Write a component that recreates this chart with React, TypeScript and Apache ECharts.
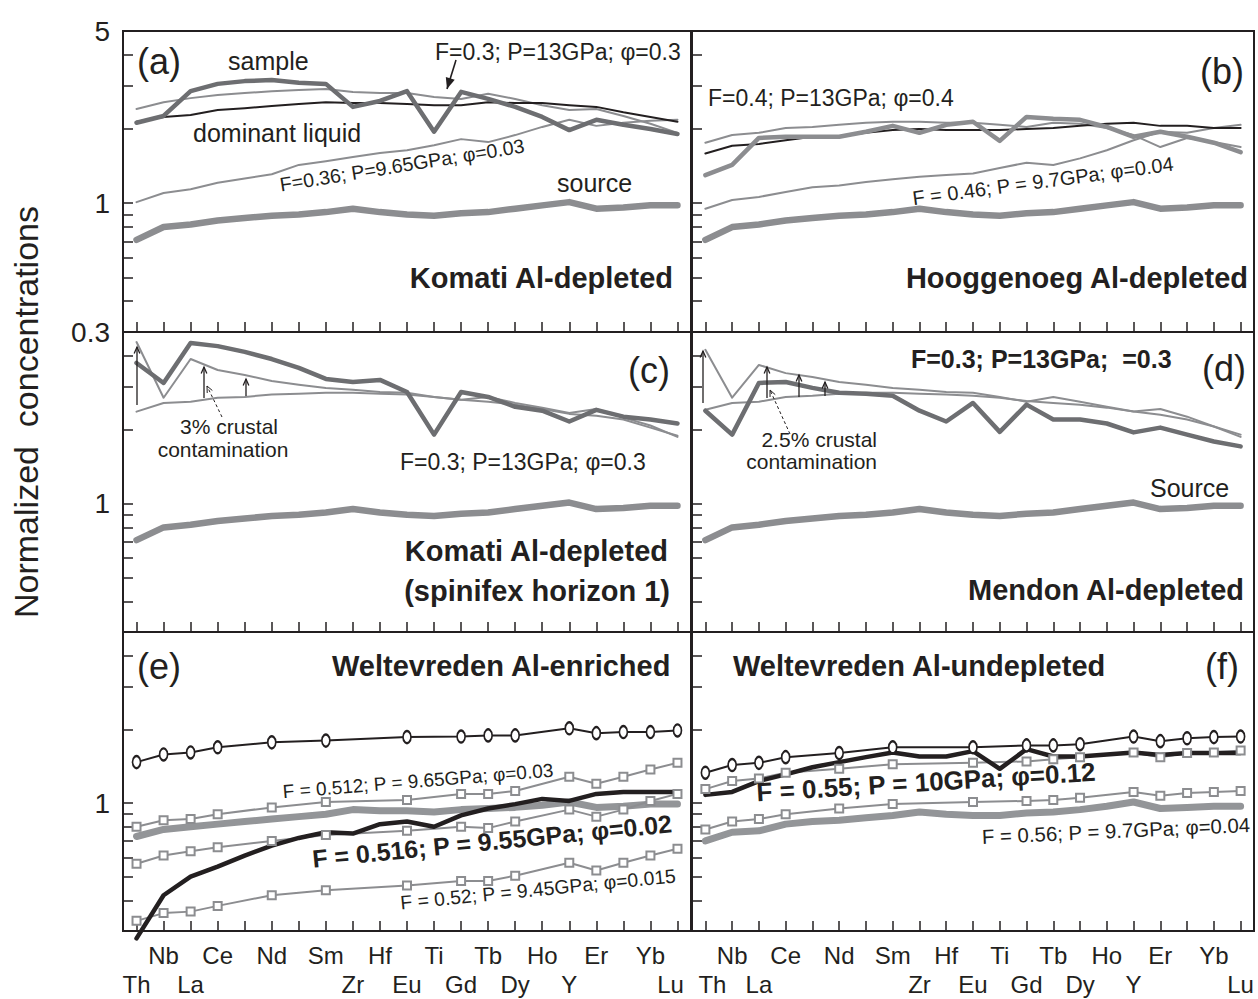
import React, { useEffect, useRef } from "react";
import * as echarts from "echarts";

// ---------- categories & tick labels ----------
const elements = ["Th", "Nb", "La", "Ce", "Pr", "Nd", "Sr", "Sm", "Zr", "Hf", "Eu", "Ti", "Gd", "Tb", "Dy", "Ho", "Y", "Er", "Tm", "Yb", "Lu"];
const upperRowLabels = ["Nb", "Ce", "Nd", "Sm", "Hf", "Ti", "Tb", "Ho", "Er", "Yb"];
const lowerRowLabels = ["Th", "La", "Zr", "Eu", "Gd", "Dy", "Y", "Lu"];
const yTickValues = [0.4, 0.5, 0.6, 0.7, 0.8, 0.9, 1, 2, 3, 4];
const yLabelsTop = [0.3, 1, 5];
const yLabelsOther = [1];
const Y_MIN = 0.3;
const Y_MAX = 5;

// ---------- source (panels a-d) ----------
const sourceAD = [0.71, 0.8, 0.82, 0.85, 0.87, 0.89, 0.9, 0.92, 0.95, 0.92, 0.9, 0.89, 0.91, 0.92, 0.95, 0.98, 1.01, 0.95, 0.96, 0.98, 0.98];

// ---------- panel (a) ----------
const aSample = [2.12, 2.26, 2.85, 3.05, 3.13, 3.16, 3.08, 3.05, 2.46, 2.6, 2.85, 1.95, 2.83, 2.65, 2.46, 2.24, 1.98, 2.18, 2.08, 2.0, 1.91];
const aModel = [2.41, 2.57, 2.67, 2.75, 2.8, 2.85, 2.88, 2.91, 2.83, 2.8, 2.8, 2.7, 2.65, 2.78, 2.65, 2.5, 2.39, 2.41, 2.26, 2.1, 1.93];
const aLiquid = [2.14, 2.24, 2.28, 2.39, 2.43, 2.48, 2.53, 2.57, 2.55, 2.55, 2.53, 2.5, 2.5, 2.57, 2.55, 2.55, 2.5, 2.46, 2.34, 2.24, 2.14];
const aLowF = [1.01, 1.1, 1.14, 1.21, 1.26, 1.31, 1.43, 1.48, 1.54, 1.6, 1.64, 1.72, 1.82, 1.77, 1.89, 2.04, 2.18, 2.06, 2.12, 2.16, 2.18];

// ---------- panel (b) ----------
const bLiquid = [1.59, 1.71, 1.74, 1.8, 1.86, 1.87, 1.93, 1.98, 2.0, 1.98, 1.98, 1.98, 2.0, 2.02, 2.06, 2.1, 2.12, 2.06, 2.06, 2.02, 2.02];
const bModel = [1.76, 1.89, 1.93, 2.02, 2.04, 2.08, 2.12, 2.14, 2.14, 2.12, 2.12, 2.08, 2.04, 2.12, 2.1, 2.02, 1.89, 1.69, 1.84, 1.77, 1.69];
const bSample = [1.3, 1.43, 1.84, 1.86, 1.86, 1.86, 1.95, 2.06, 1.93, 2.08, 2.14, 1.79, 2.24, 2.2, 2.18, 2.04, 1.86, 1.95, 1.86, 1.76, 1.61];
const bLowF = [0.95, 1.03, 1.06, 1.11, 1.16, 1.18, 1.22, 1.25, 1.28, 1.3, 1.32, 1.39, 1.46, 1.43, 1.52, 1.64, 1.8, 1.95, 1.93, 2.02, 2.08];

// ---------- panel (c) ----------
const cSample = [3.74, 3.1, 4.51, 4.38, 4.15, 3.88, 3.57, 3.22, 3.13, 3.19, 2.85, 1.91, 2.85, 2.72, 2.48, 2.39, 2.16, 2.41, 2.26, 2.2, 2.12];
const cContam = [4.55, 2.7, 3.88, 3.5, 3.34, 3.16, 3.05, 2.96, 2.91, 2.85, 2.83, 2.72, 2.65, 2.72, 2.57, 2.46, 2.34, 2.43, 2.24, 2.08, 1.87];
const cModel = [2.37, 2.57, 2.6, 2.7, 2.72, 2.78, 2.8, 2.83, 2.83, 2.8, 2.78, 2.72, 2.65, 2.6, 2.53, 2.43, 2.32, 2.28, 2.2, 2.04, 1.89];

// ---------- panel (d) ----------
const dSample = [2.39, 1.91, 3.1, 3.13, 2.96, 2.83, 2.8, 2.75, 2.39, 2.16, 2.57, 1.96, 2.53, 2.2, 2.2, 2.12, 1.95, 2.04, 1.91, 1.79, 1.71];
const dContam = [4.23, 2.7, 3.67, 3.4, 3.28, 3.13, 3.05, 2.96, 2.91, 2.85, 2.83, 2.72, 2.6, 2.72, 2.6, 2.48, 2.37, 2.43, 2.26, 2.06, 1.87];
const dModel = [2.41, 2.57, 2.6, 2.72, 2.75, 2.8, 2.83, 2.83, 2.8, 2.78, 2.75, 2.7, 2.62, 2.57, 2.53, 2.46, 2.37, 2.3, 2.2, 2.06, 1.91];

// ---------- panel (e) ----------
const eCircles = [1.47, 1.58, 1.61, 1.69, null, 1.77, null, 1.8, null, null, 1.86, null, 1.87, 1.89, 1.89, null, 2.02, 1.93, 1.95, 1.95, 1.98];
const eUpper = [0.8, 0.85, 0.86, 0.9, null, 0.96, null, 1.01, null, null, 1.03, null, 1.09, 1.09, 1.12, null, 1.28, 1.2, 1.28, 1.37, 1.46];
const eMiddle = [0.565, 0.61, 0.635, 0.66, null, 0.7, null, 0.74, null, null, 0.77, null, 0.8, 0.79, 0.84, null, 0.94, 0.88, 0.94, 1.02, 1.09];
const eLower = [0.33, 0.355, 0.36, 0.38, null, 0.42, null, 0.44, null, null, 0.46, null, 0.48, 0.48, 0.505, null, 0.57, 0.53, 0.57, 0.61, 0.65];
const eSource = [0.73, 0.78, 0.8, 0.82, 0.84, 0.86, 0.88, 0.9, 0.94, 0.93, 0.93, 0.92, 0.94, 0.95, 0.96, 0.98, 1.01, 0.96, 0.97, 0.99, 0.99];
const eBest = [0.28, 0.42, 0.5, 0.55, 0.61, 0.67, 0.72, 0.76, 0.75, 0.82, 0.84, 0.8, 0.89, 0.95, 0.99, 1.04, 1.02, 1.09, 1.11, 1.11, 1.11];

// ---------- panel (f) ----------
const fCircles = [1.33, 1.43, 1.46, 1.54, null, 1.6, null, 1.69, null, null, 1.69, null, 1.72, 1.72, 1.74, null, 1.87, 1.79, 1.84, 1.86, 1.87];
const fBest = [1.08, 1.11, 1.23, 1.31, 1.4, 1.47, 1.54, 1.61, 1.55, 1.55, 1.63, 1.38, 1.66, 1.55, 1.55, 1.58, 1.61, 1.57, 1.6, 1.6, 1.6];
const fUpper = [1.14, 1.23, 1.26, 1.33, null, 1.38, null, 1.44, null, null, 1.46, null, 1.48, 1.51, 1.54, null, 1.61, 1.54, 1.6, 1.61, 1.64];
const fLower = [0.78, 0.84, 0.86, 0.9, null, 0.95, null, 0.99, null, null, 1.01, null, 1.02, 1.03, 1.05, null, 1.11, 1.07, 1.1, 1.11, 1.12];
const fSource = [0.7, 0.76, 0.77, 0.82, 0.84, 0.85, 0.87, 0.89, 0.92, 0.9, 0.89, 0.89, 0.91, 0.92, 0.94, 0.97, 1.01, 0.95, 0.96, 0.97, 0.97];

// ---------- styles ----------
const FONT = "'Liberation Sans', Arial, Helvetica, sans-serif";
const BLACK = "#231f20";
const DARK = "#6d6e71";
const GREY = "#8c8d90";
const LIGHT = "#939598";

const grids = [
  { left: 123, top: 31, width: 568, height: 301 },
  { left: 692, top: 31, width: 562, height: 301 },
  { left: 123, top: 332, width: 568, height: 300 },
  { left: 692, top: 332, width: 562, height: 300 },
  { left: 123, top: 632, width: 568, height: 301 },
  { left: 692, top: 632, width: 562, height: 301 },
];

const toLog = (arr: (number | null)[]) => arr.map((v) => (v == null ? null : Math.log10(v)));

function line(idx: number, data: (number | null)[], color: string, width: number, extra: any = {}) {
  return {
    type: "line",
    xAxisIndex: idx,
    yAxisIndex: idx,
    data: toLog(data),
    symbol: "none",
    connectNulls: true,
    silent: true,
    lineStyle: { color, width, join: "round", cap: "round" },
    itemStyle: { color },
    ...extra,
  };
}

const circleMarks = (color: string) => ({
  symbol: "emptyCircle",
  symbolSize: [8, 12],
  showSymbol: true,
  showAllSymbol: true,
  itemStyle: { color, borderColor: color, borderWidth: 1.8 },
});
const squareMarks = (color: string) => ({
  symbol: "emptyRect",
  symbolSize: 8,
  showSymbol: true,
  showAllSymbol: true,
  itemStyle: { color, borderColor: color, borderWidth: 2 },
});

function txt(text: string, x: number, y: number, size: number, opts: any = {}) {
  return {
    type: "text",
    x,
    y,
    rotation: opts.rot ? (opts.rot * Math.PI) / 180 : 0,
    z: 100,
    silent: true,
    style: {
      text,
      fill: BLACK,
      fontSize: size,
      fontFamily: FONT,
      fontWeight: opts.bold ? "bold" : "normal",
      align: opts.align || "left",
      textAlign: opts.align || "left",
      verticalAlign: "middle",
      textVerticalAlign: "middle",
    },
  };
}

function arrow(x1: number, y1: number, x2: number, y2: number, opts: any = {}) {
  const head = opts.head || 7;
  const spread = opts.spread || 0.42;
  const w = opts.width || 1.3;
  const ang = Math.atan2(y2 - y1, x2 - x1);
  const p1 = [x2 + head * Math.cos(ang + Math.PI - spread), y2 + head * Math.sin(ang + Math.PI - spread)];
  const p2 = [x2 + head * Math.cos(ang + Math.PI + spread), y2 + head * Math.sin(ang + Math.PI + spread)];
  const lineStyle: any = { stroke: BLACK, lineWidth: w };
  if (opts.dashed) lineStyle.lineDash = [3, 2.5];
  const els: any[] = [{ type: "line", z: 100, silent: true, shape: { x1, y1, x2, y2 }, style: lineStyle }];
  if (opts.filled) {
    els.push({ type: "polygon", z: 100, silent: true, shape: { points: [[x2, y2], p1, p2] }, style: { fill: BLACK } });
  } else {
    els.push({ type: "polyline", z: 100, silent: true, shape: { points: [p1, [x2, y2], p2] }, style: { stroke: BLACK, lineWidth: w, fill: null } });
  }
  return els;
}

function nearestLabel(v: number, list: number[]) {
  let best = list[0];
  list.forEach((c) => {
    if (Math.abs(Math.log10(c) - v) < Math.abs(Math.log10(best) - v)) best = c;
  });
  return String(best);
}

function xLabelFormatter(axisIndex: number) {
  return (v: string) => {
    if (upperRowLabels.includes(v)) return v + "\n ";
    if (lowerRowLabels.includes(v)) {
      if (v === "Lu" && axisIndex === 4) return " \n{l|Lu}";
      if (v === "Th" && axisIndex === 5) return " \n{r|Th}";
      return " \n" + v;
    }
    return "";
  };
}

function buildOption() {
  const xAxis = grids.map((_, i) => ({
    type: "category",
    gridIndex: i,
    data: elements,
    boundaryGap: true,
    axisLine: { show: false, onZero: false },
    splitLine: { show: false },
    axisTick: { show: true, inside: true, length: 10, alignWithLabel: true, interval: 0, lineStyle: { color: BLACK, width: 1.5 } },
    axisLabel: {
      show: i >= 4,
      interval: 0,
      margin: 10,
      color: BLACK,
      fontSize: 24,
      fontFamily: FONT,
      lineHeight: 29,
      verticalAlign: "top",
      formatter: xLabelFormatter(i),
      rich: {
        l: { fontSize: 24, fontFamily: FONT, color: BLACK, lineHeight: 29, padding: [0, 14, 0, 0] },
        r: { fontSize: 24, fontFamily: FONT, color: BLACK, lineHeight: 29, padding: [0, 0, 0, 14] },
      },
    },
  }));

  const yAxis = grids.map((_, i) => {
    const labels = i === 0 ? yLabelsTop : yLabelsOther;
    return {
      type: "value",
      gridIndex: i,
      min: Math.log10(Y_MIN),
      max: Math.log10(Y_MAX),
      axisLine: { show: false, onZero: false },
      splitLine: { show: false },
      axisTick: { show: true, inside: true, length: 10, customValues: yTickValues.map((v) => Math.log10(v)), lineStyle: { color: BLACK, width: 1.5 } },
      axisLabel: {
        show: i % 2 === 0,
        customValues: labels.map((v) => Math.log10(v)),
        formatter: (v: number) => nearestLabel(v, labels),
        color: BLACK,
        fontSize: 28,
        fontFamily: FONT,
        margin: 13,
      },
    };
  });

  const series: any[] = [
    // (a)
    line(0, sourceAD, GREY, 6.5),
    line(0, aLowF, GREY, 2),
    line(0, aModel, GREY, 2),
    line(0, aLiquid, BLACK, 2),
    line(0, aSample, DARK, 4.5),
    // (b)
    line(1, sourceAD, GREY, 6.5),
    line(1, bLowF, GREY, 2),
    line(1, bModel, GREY, 2),
    line(1, bLiquid, BLACK, 2),
    line(1, bSample, GREY, 4.5),
    // (c)
    line(2, sourceAD, GREY, 6.5),
    line(2, cModel, GREY, 2),
    line(2, cContam, GREY, 2),
    line(2, cSample, DARK, 4.5),
    // (d)
    line(3, sourceAD, GREY, 6.5),
    line(3, dModel, GREY, 2),
    line(3, dContam, GREY, 2),
    line(3, dSample, DARK, 4.5),
    // (e)
    line(4, eSource, LIGHT, 7),
    line(4, eLower, GREY, 2, squareMarks(GREY)),
    line(4, eMiddle, GREY, 2, squareMarks(GREY)),
    line(4, eUpper, GREY, 2, squareMarks(GREY)),
    line(4, eBest, BLACK, 4.5, { clip: false }),
    line(4, eCircles, BLACK, 2, circleMarks(BLACK)),
    // (f)
    line(5, fSource, LIGHT, 7),
    line(5, fLower, GREY, 2, squareMarks(GREY)),
    line(5, fUpper, GREY, 2, squareMarks(GREY)),
    line(5, fBest, BLACK, 4.5),
    line(5, fCircles, BLACK, 2, circleMarks(BLACK)),
  ];

  const graphics: any[] = [
    txt("Normalized  concentrations", 26, 412, 34, { align: "center", rot: 90 }),
    // (a)
    txt("(a)", 137, 61, 36),
    txt("sample", 228, 61, 25),
    txt("F=0.3; P=13GPa; φ=0.3", 435, 52, 23),
    txt("dominant liquid", 193, 133, 25),
    txt("F=0.36; P=9.65GPa; φ=0.03", 402, 165, 19.6, { align: "center", rot: 9.1 }),
    txt("source", 557, 183, 25),
    txt("Komati Al-depleted", 673, 278, 29, { bold: true, align: "right" }),
    ...arrow(456, 60, 447, 89, { filled: true, head: 12, spread: 0.4, width: 1.6 }),
    // (b)
    txt("(b)", 1244, 71, 36, { align: "right" }),
    txt("F=0.4; P=13GPa; φ=0.4", 708, 98, 23),
    txt("F = 0.46; P = 9.7GPa; φ=0.04", 1043, 181, 20, { align: "center", rot: 7.6 }),
    txt("Hooggenoeg Al-depleted", 1248, 278, 29, { bold: true, align: "right" }),
    // (c)
    txt("(c)", 670, 370, 36, { align: "right" }),
    txt("3% crustal", 229, 426, 21, { align: "center" }),
    txt("contamination", 223, 449, 21, { align: "center" }),
    txt("F=0.3; P=13GPa; φ=0.3", 400, 462, 23),
    txt("Komati Al-depleted", 668, 551, 29, { bold: true, align: "right" }),
    txt("(spinifex horizon 1)", 670, 591, 29, { bold: true, align: "right" }),
    ...arrow(137, 405, 137, 347),
    ...arrow(204, 398, 204, 367),
    ...arrow(246, 396, 246, 379),
    ...arrow(222, 417, 207, 386, { dashed: true, width: 1 }),
    // (d)
    txt("F=0.3; P=13GPa;  =0.3", 911, 359, 25, { bold: true }),
    txt("(d)", 1246, 368, 36, { align: "right" }),
    txt("2.5% crustal", 877, 439, 21, { align: "right" }),
    txt("contamination", 877, 461, 21, { align: "right" }),
    txt("Source", 1150, 488, 25),
    txt("Mendon Al-depleted", 1244, 590, 29, { bold: true, align: "right" }),
    ...arrow(703, 403, 703, 351),
    ...arrow(767, 398, 767, 367),
    ...arrow(799, 397, 799, 375),
    ...arrow(825, 396, 825, 382),
    ...arrow(790, 434, 770, 390, { dashed: true, width: 1 }),
    // (e)
    txt("(e)", 137, 666, 36),
    txt("Weltevreden Al-enriched", 332, 666, 29, { bold: true }),
    txt("F = 0.512; P = 9.65GPa; φ=0.03", 418, 781, 19, { align: "center", rot: 4.6 }),
    txt("F = 0.516; P = 9.55GPa; φ=0.02", 492, 841, 25, { bold: true, align: "center", rot: 5.6 }),
    txt("F = 0.52; P = 9.45GPa; φ=0.015", 538, 889, 19.4, { align: "center", rot: 5.6 }),
    // (f)
    txt("Weltevreden Al-undepleted", 733, 666, 29, { bold: true }),
    txt("(f)", 1239, 666, 36, { align: "right" }),
    txt("F = 0.55; P = 10GPa; φ=0.12", 926, 782, 26, { bold: true, align: "center", rot: 3.5 }),
    txt("F = 0.56; P = 9.7GPa; φ=0.04", 1116, 831, 20.4, { align: "center", rot: 2.6 }),
  ];

  return {
    animation: false,
    backgroundColor: "#ffffff",
    textStyle: { fontFamily: FONT },
    grid: grids.map((g) => ({ ...g, show: true, borderColor: BLACK, borderWidth: 2, backgroundColor: "transparent", containLabel: false })),
    xAxis,
    yAxis,
    series,
    graphic: { elements: graphics },
  };
}

export default function App() {
  const ref = useRef<HTMLDivElement>(null);
  useEffect(() => {
    if (!ref.current) return;
    const chart = echarts.init(ref.current, undefined, { renderer: "svg" });
    chart.setOption(buildOption() as any);
    return () => chart.dispose();
  }, []);
  return <div ref={ref} style={{ position: "fixed", left: 0, top: 0, width: 1258, height: 999, background: "#fff" }} />;
}
